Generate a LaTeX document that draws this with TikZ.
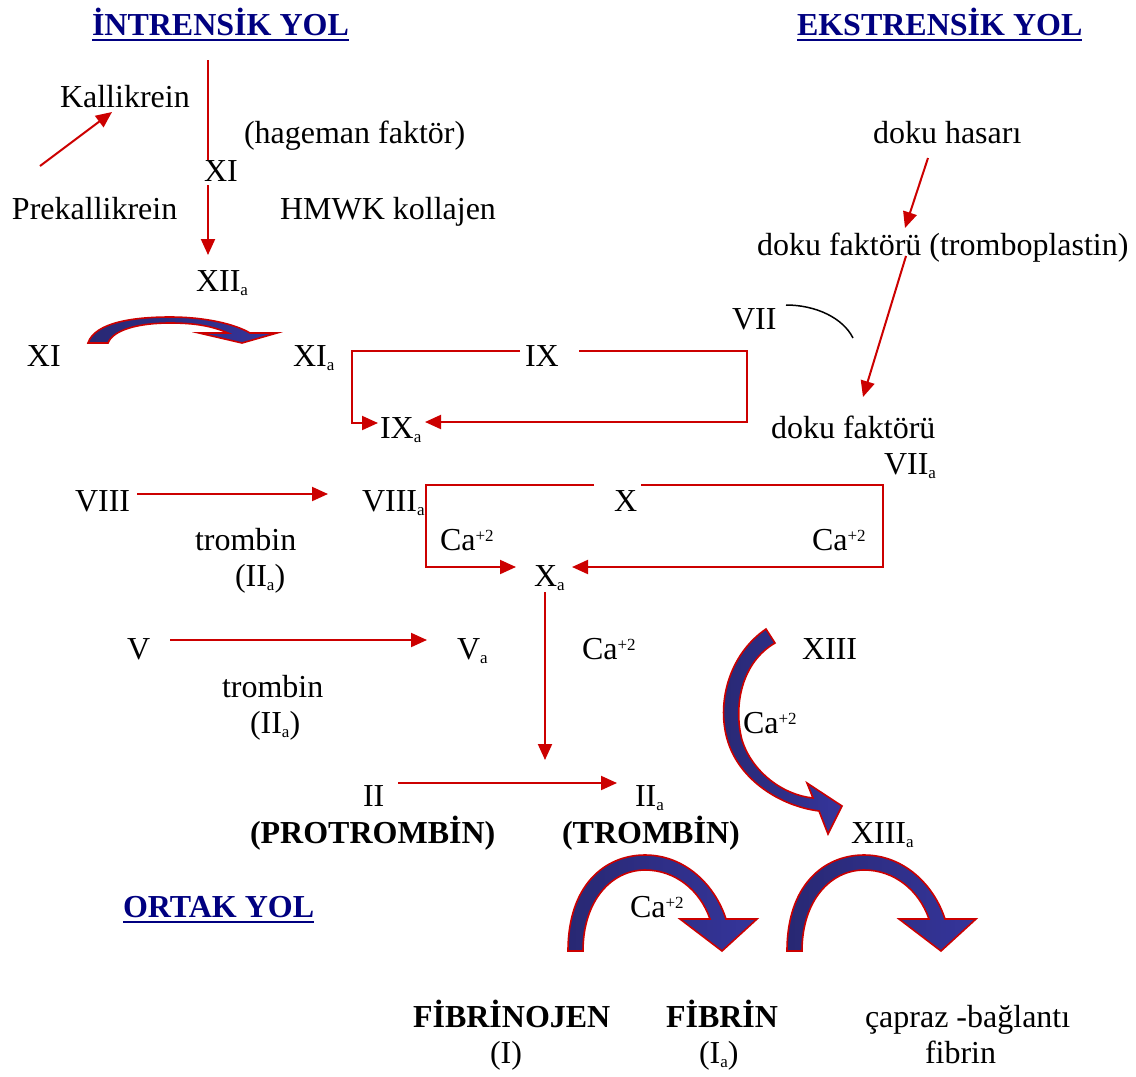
\documentclass[tikz,border=0pt]{standalone}
\usepackage{fontspec}
\setmainfont{Liberation Serif}
\usetikzlibrary{arrows.meta}
\definecolor{navyt}{RGB}{0,0,128}
\definecolor{lred}{RGB}{204,0,0}
\definecolor{bluea}{RGB}{53,53,155}
\definecolor{blueb}{RGB}{40,40,115}
\newcommand{\lsub}[1]{\raisebox{-4pt}{\fontsize{17}{17}\selectfont #1}}
\newcommand{\hsup}[1]{\raisebox{9pt}{\fontsize{17}{17}\selectfont #1}}
\newcommand{\Ca}{Ca\hsup{+2}}
\begin{document}
\begin{tikzpicture}[x=1pt,y=-1pt,
 txt/.style={inner sep=0pt, outer sep=0pt, anchor=base west, font=\fontsize{32}{36}\selectfont},
 bld/.style={txt, font=\fontsize{32}{36}\selectfont\bfseries},
 ttl/.style={bld, text=navyt},
 rarr/.style={draw=lred, line width=2pt, -{Triangle[length=16pt,width=14pt]}},
 rline/.style={draw=lred, line width=2pt},
 bigarrow/.style={draw=lred, line width=1.6pt, left color=blueb, right color=bluea, line join=miter},
 uline/.style={draw=navyt, line width=2.5pt},
]
\useasboundingbox (0,0) rectangle (1136,1077);

% big curved arrows
\path[bigarrow] (88,343) .. controls (95,322) and (135,317) .. (170,317) .. controls (205,317) and (235,324) .. (250,333) -- (277,333) -- (242,343) -- (199,333) -- (228,333) .. controls (212,326) and (195,323) .. (170,323) .. controls (138,323) and (113,330) .. (108,343) -- cycle;
\foreach \s in {0,219}{
\path[bigarrow, shift={(\s,0)}] (568,951) .. controls (568,885) and (605,855) .. (645,855) .. controls (685,855) and (715,885) .. (726,919) -- (757,919) -- (722,951) -- (680,919) -- (710,919) .. controls (700,890) and (675,870) .. (645,870) .. controls (612,870) and (583,900) .. (583,951) -- cycle;
}
\path[bigarrow] (766,629) .. controls (728,655) and (716,705) .. (728,742) .. controls (740,780) and (780,806) .. (819,811) -- (828,834) -- (842,806) -- (807,783) -- (813,798) .. controls (783,795) and (752,772) .. (742,740) .. controls (733,705) and (742,662) .. (775,643) -- cycle;

% texts
\node[ttl] (t1) at (92,35) {İNTRENSİK YOL};
\node[ttl] (t2) at (797,35) {EKSTRENSİK YOL};
\node[txt] (kal) at (60,107) {Kallikrein};
\node[txt] (hag) at (244,143) {(hageman faktör)};
\node[txt] (xi1) at (204,181) {XI};
\node[txt] (prek) at (12,219) {Prekallikrein};
\node[txt] (hmwk) at (280,219) {HMWK kollajen};
\node[txt] (xiia) at (196,291) {XII\lsub{a}};
\node[txt] (dh) at (873,143) {doku hasarı};
\node[txt] (dft) at (757,255) {doku faktörü (tromboplastin)};
\node[txt] (vii) at (732,329) {VII};
\node[txt] (xi2) at (27,366) {XI};
\node[txt] (xia) at (293,366) {XI\lsub{a}};
\node[txt] (ix) at (525,366) {IX};
\node[txt] (ixa) at (380,438) {IX\lsub{a}};
\node[txt] (df) at (771,438) {doku faktörü};
\node[txt] (viia) at (884,474) {VII\lsub{a}};
\node[txt] (viii) at (75,511) {VIII};
\node[txt] (viiia) at (362,511) {VIII\lsub{a}};
\node[txt] (xn) at (614,511) {X};
\node[txt] (tr1) at (195,550) {trombin};
\node[txt] (tr1b) at (235,586) {(II\lsub{a})};
\node[txt] (ca1) at (440,550) {\Ca};
\node[txt] (ca2) at (812,550) {\Ca};
\node[txt] (xa) at (534,586) {X\lsub{a}};
\node[txt] (v) at (127,659) {V};
\node[txt] (va) at (457,659) {V\lsub{a}};
\node[txt] (ca3) at (582,659) {\Ca};
\node[txt] (xiii) at (802,659) {XIII};
\node[txt] (tr2) at (222,697) {trombin};
\node[txt] (tr2b) at (250,733) {(II\lsub{a})};
\node[txt] (ca4) at (743,733) {\Ca};
\node[txt] (ii) at (363,806) {II};
\node[txt] (iia) at (635,806) {II\lsub{a}};
\node[bld] (prot) at (250,843) {(PROTROMBİN)};
\node[bld] (trom) at (562,843) {(TROMBİN)};
\node[txt] (xiiia) at (851,843) {XIII\lsub{a}};
\node[ttl] (ortak) at (123,917) {ORTAK YOL};
\node[txt] (ca5) at (630,917) {\Ca};
\node[bld] (fib) at (413,1027) {FİBRİNOJEN};
\node[txt] (fibi) at (490,1063) {(I)};
\node[bld] (fibr) at (666,1027) {FİBRİN};
\node[txt] (fibria) at (699,1063) {(I\lsub{a})};
\node[txt] (capraz) at (865,1027) {çapraz -bağlantı};
\node[txt] (fibrin) at (925,1063) {fibrin};

% underlines
\draw[uline] ([yshift=-5pt]t1.base west) -- ([yshift=-5pt]t1.base east);
\draw[uline] ([yshift=-5pt]t2.base west) -- ([yshift=-5pt]t2.base east);
\draw[uline] ([yshift=-5pt]ortak.base west) -- ([yshift=-5pt]ortak.base east);

% connectors
\coordinate (topc) at (208,60);
\draw[rline] (topc) -- ([shift={(4pt,21pt)}]xi1.base west);
\draw[rarr] ([shift={(4pt,-4pt)}]xi1.base west) -- ([shift={(12pt,36pt)}]xiia.base west);
\draw[rarr] ([shift={(28pt,53pt)}]prek.base west) -- ([shift={(52pt,-5pt)}]kal.base west);
\draw[rarr] ([shift={(55pt,-15pt)}]dh.base west) -- ([shift={(148pt,27pt)}]dft.base west);
\draw[rarr] ([shift={(149pt,-1pt)}]dft.base west) -- ([shift={(92pt,41pt)}]df.base west);
\draw[black, line width=1.5pt] ([shift={(54pt,24pt)}]vii.base west) .. controls +(30pt,0pt) and +(-10pt,20pt) .. ([shift={(121pt,-9pt)}]vii.base west);
\draw[rarr] ([shift={(-5pt,15pt)}]ix.base west) -| ([shift={(-28pt,15pt)}]ixa.base west) -- ([shift={(-2pt,15pt)}]ixa.base west);
\draw[rarr] ([shift={(54pt,15pt)}]ix.base west) -- ++(168pt,0pt) |- ([shift={(45pt,16pt)}]ixa.base west);
\draw[rarr] ([shift={(-20pt,26pt)}]xn.base west) -| ([shift={(-108pt,19pt)}]xa.base west) -- ([shift={(-18pt,19pt)}]xa.base west);
\draw[rarr] ([shift={(27pt,26pt)}]xn.base west) -- ++(242pt,0pt) |- ([shift={(38pt,19pt)}]xa.base west);
\draw[rarr] ([shift={(62pt,17pt)}]viii.base west) -- ([shift={(-34pt,17pt)}]viiia.base west);
\draw[rarr] ([shift={(43pt,19pt)}]v.base west) -- ([shift={(-30pt,19pt)}]va.base west);
\draw[rarr] ([shift={(11pt,-6pt)}]xa.base west) -- ([shift={(182pt,46pt)}]ii.base west);
\draw[rarr] ([shift={(35pt,23pt)}]ii.base west) -- ([shift={(-18pt,23pt)}]iia.base west);
\end{tikzpicture}
\end{document}
